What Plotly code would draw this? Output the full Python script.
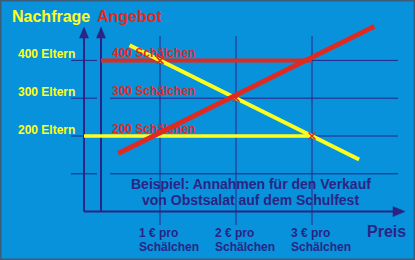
import plotly.graph_objects as go

# Values of the example: price per bowl (€) and number of bowls / parents
prices = [1, 2, 3]
price_labels = ["1 € pro", "2 € pro", "3 € pro"]
unit_label = "Schälchen"
levels = [100, 200, 300, 400]
label_levels = [200, 300, 400]
parent_labels = ["200 Eltern", "300 Eltern", "400 Eltern"]
bowl_labels = ["200 Schälchen", "300 Schälchen", "400 Schälchen"]

demand_price = [0.6, 3.62]
demand_qty = [440, 138]
supply_price = [0.45, 3.82]
supply_qty = [154, 490]

# horizontal guides: 200 parents asking, 400 bowls offered
demand_level_price = [0, 3]
demand_level_qty = [200, 200]
supply_level_end = 3
supply_level_qty = 400

crossing_price = [1, 2, 3]
crossing_qty = [400, 300, 200]

# ---- geometry ----
W, H = 415, 260
X0_PX, PX_PER_EURO = 84.0, 76.0
Y0_PX, PX_PER_UNIT = 211.6, 0.378


def p_of(xpx):
    return (xpx - X0_PX) / PX_PER_EURO


def q_of(ypx):
    return (Y0_PX - ypx) / PX_PER_UNIT


def dp(px):
    return px / PX_PER_EURO


def dq(px):
    return px / PX_PER_UNIT


SUPPLY_AXIS_P = p_of(101)

BG = "#0792DB"
NAVY = "#2B2484"
YELLOW = "#FFFF1E"
RED = "#DF2A22"
BORDER = "#3D5C78"
FONT = "Liberation Sans, Arial, sans-serif"

fig = go.Figure()

shapes = []


def seg(x0, y0, x1, y1, color, width):
    shapes.append(dict(type="line", xref="x", yref="y", x0=x0, y0=y0,
                       x1=x1, y1=y1, layer="below",
                       line=dict(color=color, width=width)))


# grid: horizontal quantity lines (broken around the two value axes)
for q in levels:
    seg(p_of(71), q, p_of(97), q, NAVY, 1)
    seg(p_of(110), q, p_of(398), q, NAVY, 1)
# grid: vertical price lines
for p in prices:
    seg(p, q_of(36), p, q_of(225), NAVY, 1)

# value axes with arrow heads
axis_top = q_of(38)
tip = q_of(27)
for ax_p in [0, SUPPLY_AXIS_P]:
    seg(ax_p, 0, ax_p, axis_top, NAVY, 2)
    shapes.append(dict(
        type="path", xref="x", yref="y", layer="below",
        path=f"M {ax_p - dp(4.5)},{axis_top} L {ax_p + dp(4.5)},{axis_top} "
             f"L {ax_p},{tip} Z",
        fillcolor=NAVY, line=dict(color=NAVY, width=0.5)))
# price axis
x_end = p_of(393)
x_tip = p_of(405)
seg(0, 0, x_end, 0, NAVY, 2)
shapes.append(dict(
    type="path", xref="x", yref="y", layer="below",
    path=f"M {x_end},{dq(5)} L {x_end},{-dq(5)} L {x_tip},0 Z",
    fillcolor=NAVY, line=dict(color=NAVY, width=0.5)))

# frame around the picture
shapes.append(dict(type="rect", xref="paper", yref="paper", x0=0, y0=0,
                   x1=1, y1=1, line=dict(color=BORDER, width=3),
                   layer="above"))

# demand level and supply level
fig.add_trace(go.Scatter(x=demand_level_price, y=demand_level_qty,
                         mode="lines", line=dict(color=YELLOW, width=3.5),
                         hoverinfo="skip"))
fig.add_trace(go.Scatter(x=[SUPPLY_AXIS_P, supply_level_end],
                         y=[supply_level_qty, supply_level_qty],
                         mode="lines", line=dict(color=RED, width=4),
                         hoverinfo="skip"))
# demand curve
fig.add_trace(go.Scatter(x=demand_price, y=demand_qty, mode="lines",
                         line=dict(color=YELLOW, width=4), hoverinfo="skip"))
# supply curve
fig.add_trace(go.Scatter(x=supply_price, y=supply_qty, mode="lines",
                         line=dict(color=RED, width=5), hoverinfo="skip"))
# crossing marks
fig.add_trace(go.Scatter(x=crossing_price, y=crossing_qty, mode="markers",
                         marker=dict(symbol="x-thin", size=7,
                                     line=dict(color=RED, width=1.5)),
                         hoverinfo="skip"))

ann = []


def text(s, x, y, size, color, xanchor="left"):
    ann.append(dict(text=f"<b>{s}</b>", x=x, y=y, xref="x", yref="y",
                    showarrow=False, xanchor=xanchor, yanchor="middle",
                    font=dict(family=FONT, size=size, color=color)))


text("Nachfrage", p_of(10), q_of(16), 16, YELLOW)
text("Angebot", p_of(95), q_of(16), 16, RED)
for lv, lab in zip(label_levels, parent_labels):
    text(lab, p_of(16), lv + dq(6), 12, YELLOW)
for lv, lab in zip(label_levels, bowl_labels):
    text(lab, p_of(110), lv + dq(7.5), 12, RED)
for p, lab in zip(prices, price_labels):
    text(lab, p - dp(23), q_of(232.5), 12, NAVY)
    text(unit_label, p - dp(23), q_of(246.5), 12, NAVY)
text("Preis", p_of(365), q_of(231.7), 16, NAVY)
text("Beispiel: Annahmen für den Verkauf", p_of(250.7), q_of(184.3), 14,
     NAVY, "center")
text("von Obstsalat auf dem Schulfest", p_of(250.7), q_of(200), 14,
     NAVY, "center")

fig.update_layout(
    width=W, height=H,
    margin=dict(l=0, r=0, t=0, b=0),
    paper_bgcolor=BG, plot_bgcolor=BG,
    showlegend=False,
    shapes=shapes, annotations=ann,
    xaxis=dict(range=[p_of(0), p_of(W)], visible=False, fixedrange=True),
    yaxis=dict(range=[q_of(H), q_of(0)], visible=False, fixedrange=True),
)

fig.write_html("out.html", config={"displayModeBar": False})
